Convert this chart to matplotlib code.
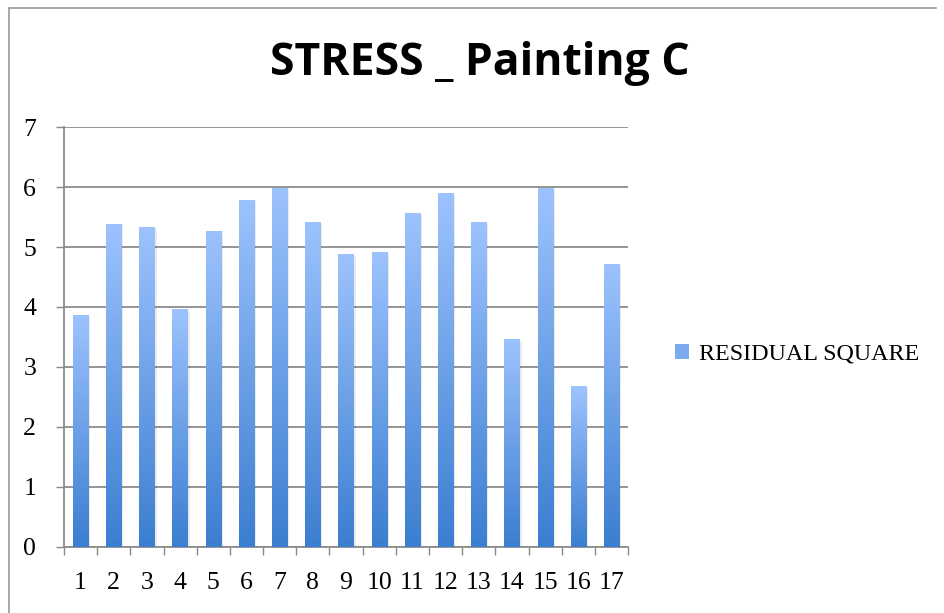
import numpy as np
import matplotlib.pyplot as plt
from matplotlib.colors import LinearSegmentedColormap
from matplotlib.patches import Patch
from matplotlib.lines import Line2D

categories = [str(i) for i in range(1, 18)]
residual_square = [3.87, 5.39, 5.33, 3.97, 5.27, 5.79, 5.99, 5.42, 4.88,
                   4.92, 5.57, 5.90, 5.42, 3.47, 5.98, 2.68, 4.72]

serif = ["Liberation Serif", "DejaVu Serif"]
cmap = LinearSegmentedColormap.from_list("bar", ["#3B7ED0", "#9DC3FE"])

fig = plt.figure(figsize=(9.45, 6.13), dpi=100)
ax = fig.add_axes([0.0677, 0.1077, 0.597, 0.6851])

x = np.arange(len(categories))
bars = ax.bar(x, residual_square, width=0.46, color="none", zorder=3)

grad = np.linspace(0, 1, 256).reshape(-1, 1)
for b in bars:
    x0, y0 = b.get_x(), b.get_y()
    w, h = b.get_width(), b.get_height()
    # soft shadow
    ax.add_patch(plt.Rectangle((x0 + 0.06, y0), w, h - 0.03, color="#000000",
                               alpha=0.08, lw=0, zorder=2))
    im = ax.imshow(grad, cmap=cmap, origin="lower", aspect="auto",
                   extent=(x0, x0 + w, y0, y0 + h), zorder=3)
    im.set_clip_path(b)

ax.set_xlim(-0.5, len(categories) - 0.5)
ax.set_ylim(0, 7)
ax.set_yticks(range(0, 8))
ax.set_xticks(x)
ax.set_xticklabels(categories)
ax.set_xticks(np.arange(-0.5, len(categories), 1), minor=True)
ax.tick_params(axis="x", which="major", length=0, pad=18)
ax.tick_params(axis="x", which="minor", length=6, color="#888888", width=1)
ax.tick_params(axis="y", length=6, color="#888888", width=1, pad=14)
for lab in ax.get_xticklabels() + ax.get_yticklabels():
    lab.set_family(serif)
    lab.set_fontsize(18.5)

ax.grid(axis="y", color="#8C8C8C", linewidth=1.3, zorder=1)
ax.set_axisbelow(True)
for s in ["top", "right"]:
    ax.spines[s].set_visible(False)
ax.spines["left"].set_color("#8C8C8C")
ax.spines["bottom"].set_color("#8C8C8C")
ax.spines["left"].set_linewidth(1.3)
ax.spines["bottom"].set_linewidth(1.3)

fig.text(0.508, 0.897, "STRESS _ Painting C", ha="center", va="center",
         fontsize=32, fontweight="bold", family=["Open Sans", "DejaVu Sans"])

handle = Patch(facecolor="#7BAAF0", edgecolor="none")
fig.legend([handle], ["RESIDUAL SQUARE"], loc="center left",
           bbox_to_anchor=(0.691, 0.422), frameon=False, handlelength=0.6,
           handleheight=0.6, handletextpad=0.4,
           prop={"family": serif, "size": 17.3})

# chart border
fig.add_artist(Line2D([0.009, 0.009], [0, 0.987], color="#9A9A9A", lw=1.2))
fig.add_artist(Line2D([0.009, 0.99], [0.987, 0.987], color="#9A9A9A", lw=1.2))

fig.savefig("out.png", dpi=100)
